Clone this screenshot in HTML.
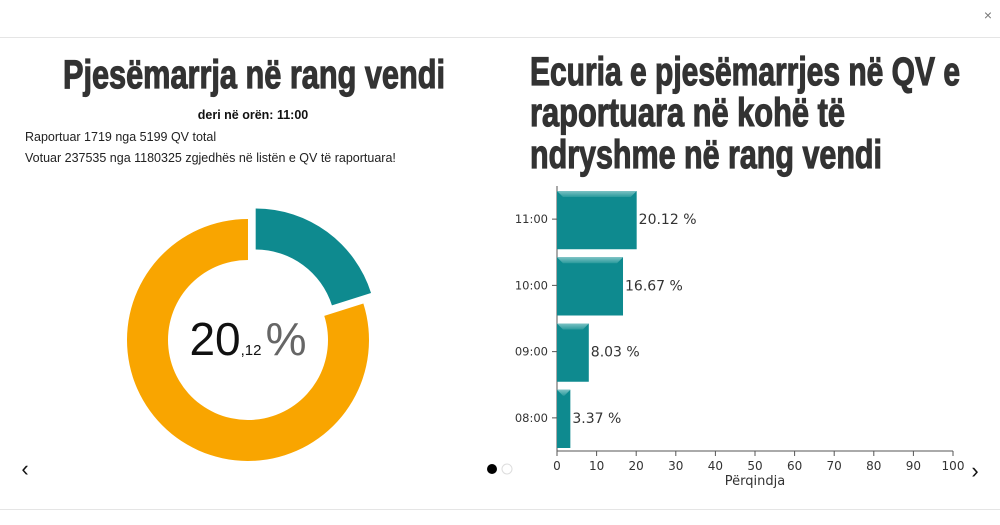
<!DOCTYPE html>
<html><head><meta charset="utf-8"><style>
body{margin:0;background:#fff;width:1000px;height:520px;overflow:hidden;font-family:"Liberation Sans",sans-serif}
</style></head><body>
<svg width="1000" height="520" viewBox="0 0 1000 520" xmlns="http://www.w3.org/2000/svg">
<defs><linearGradient id="bev" x1="0" y1="0" x2="0" y2="1"><stop offset="0" stop-color="#7cc2c4"/><stop offset="1" stop-color="#2a9a9c"/></linearGradient></defs>
<text x="988" y="20" font-size="14" fill="#777" text-anchor="middle">×</text>
<line x1="0" y1="37.5" x2="1000" y2="37.5" stroke="#e5e5e5"/>
<line x1="0" y1="509.5" x2="1000" y2="509.5" stroke="#e5e5e5"/>
<g font-family="'Liberation Sans Narrow','Liberation Sans',sans-serif" font-weight="bold" fill="#333" stroke="#333" stroke-width="1.2" font-size="40">
<text x="63" y="88" textLength="382" lengthAdjust="spacingAndGlyphs">Pjesëmarrja në rang vendi</text>
<text x="530" y="85" textLength="430" lengthAdjust="spacingAndGlyphs">Ecuria e pjesëmarrjes në QV e</text>
<text x="530" y="126" textLength="315" lengthAdjust="spacingAndGlyphs">raportuara në kohë të</text>
<text x="530" y="168" textLength="352" lengthAdjust="spacingAndGlyphs">ndryshme në rang vendi</text>
</g>
<text x="253" y="119" font-size="12.5" font-weight="bold" fill="#111" text-anchor="middle">deri në orën: 11:00</text>
<text x="25" y="141" font-size="12.5" fill="#222">Raportuar 1719 nga 5199 QV total</text>
<text x="25" y="162" font-size="12.5" fill="#222">Votuar 237535 nga 1180325 zgjedhës në listën e QV të raportuara!</text>
<g id="donut"></g>
<text x="248" y="355" text-anchor="middle" fill="#111"><tspan font-size="46">20</tspan><tspan font-size="15">,12 </tspan><tspan font-size="46" fill="#666">%</tspan></text>
<g id="chart"></g>
<circle cx="492" cy="469" r="5" fill="#000"/>
<circle cx="507" cy="469" r="5" fill="#fff" stroke="#ddd"/>
<text x="25" y="476" font-size="22" text-anchor="middle" fill="#111">‹</text>
<text x="975" y="478" font-size="22" text-anchor="middle" fill="#111">›</text>
</svg>
<script>
const turnoutValue = [20.12];
const hours = ["11:00","10:00","09:00","08:00"];
const percents = [20.12,16.67,8.03,3.37];
const xTicks = [0,10,20,30,40,50,60,70,80,90,100];
const NS="http://www.w3.org/2000/svg";
function mk(t,a,p){const e=document.createElementNS(NS,t);for(const k in a)e.setAttribute(k,a[k]);p.appendChild(e);return e;}
// donut
const dg=document.getElementById('donut');
const cx=248,cy=340,R=121,r=80;
function arc(a0,a1,ox,oy){
 const p=(a,rr)=>[cx+ox+rr*Math.sin(a),cy+oy-rr*Math.cos(a)];
 const big=(a1-a0)>Math.PI?1:0;
 const [x0,y0]=p(a0,R),[x1,y1]=p(a1,R),[x2,y2]=p(a1,r),[x3,y3]=p(a0,r);
 return `M${x0},${y0}A${R},${R} 0 ${big} 1 ${x1},${y1}L${x2},${y2}A${r},${r} 0 ${big} 0 ${x3},${y3}Z`;
}
const fa=turnoutValue[0]/100*2*Math.PI, mid=fa/2, off=13;
const s1=mk('path',{d:arc(0,fa,off*Math.sin(mid),-off*Math.cos(mid)),fill:'#0e8a8f'},dg);


const s2=mk('path',{d:arc(fa,2*Math.PI-0.0001,0,0),fill:'#f9a500'},dg);


// bar chart
const g=document.getElementById('chart');
const X0=557,X1=953,Y0=186,Y1=451;
const xs=v=>X0+(v/100)*(X1-X0);
const band=(Y1-Y0)/hours.length;
mk('line',{x1:X0,y1:Y0,x2:X0,y2:Y1,stroke:'#555'},g);
const ax=mk('line',{x1:X0,y1:Y1,x2:X1,y2:Y1,stroke:'#555'},g);


xTicks.forEach(t=>{
 mk('line',{x1:xs(t),y1:Y1,x2:xs(t),y2:Y1+5,stroke:'#555'},g);
 const l=mk('text',{x:xs(t),y:Y1+19,'font-size':12,fill:'#333','text-anchor':'middle','font-family':"'DejaVu Sans',sans-serif"},g);
 l.textContent=t;
 
 
});
const xt=mk('text',{x:(X0+X1)/2,y:Y1+34,'font-size':13,fill:'#333','text-anchor':'middle','font-family':"'DejaVu Sans',sans-serif"},g);
xt.textContent='Përqindja';


hours.forEach((h,i)=>{
 const top=Y0+i*band+5, hgt=band-8, w=xs(percents[i])-X0;
 const b=mk('rect',{x:X0,y:top,width:w,height:hgt,fill:'#0e8a8f'},g);
 
 
 const bw=Math.min(6,w/2);
 mk('path',{d:`M${X0},${top}H${X0+w}L${X0+w-bw},${top+6}H${X0+bw}Z`,fill:'url(#bev)'},g);
 const yc=Y0+i*band+band/2+4;
 mk('line',{x1:X0-5,y1:yc-4,x2:X0,y2:yc-4,stroke:'#555'},g);
 const yl=mk('text',{x:X0-9,y:yc,'font-size':11.5,fill:'#333','text-anchor':'end','font-family':"'DejaVu Sans',sans-serif"},g);
 yl.textContent=h;
 
 
 const vl=mk('text',{x:X0+w+2,y:yc+1,'font-size':14,fill:'#333','font-family':"'DejaVu Sans',sans-serif"},g);
 vl.textContent=percents[i].toFixed(2)+' %';
 
 
});
</script>
</body></html>
